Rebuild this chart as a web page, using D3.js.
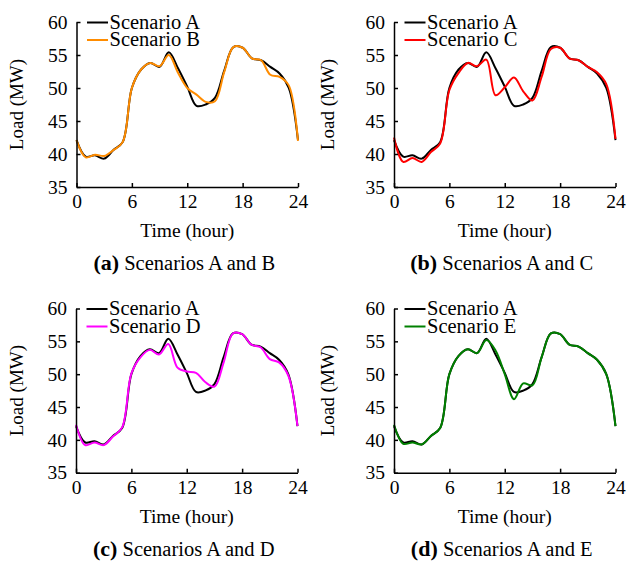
<!DOCTYPE html>
<html>
<head>
	<title>Load scenarios</title>
	<script src="https://cdn.jsdelivr.net/npm/d3@7"></script>
	<style>
		body { margin: 0; background: #fff; }
		text { font-family: "Liberation Serif", "Times New Roman", serif; fill: #000; }
	</style>
</head>
<body>
<script type="text/javascript">
	// hours of the day
	var hours = [0,1,2,3,4,5,6,7,8,9,10,11,12,13,14,15,16,17,18,19,20,21,22,23,24];

	// load in MW
	var scenarioA = [42.1,39.6,39.8,39.3,40.6,41.8,50.0,52.8,53.8,53.2,55.4,53.0,50.2,47.3,47.5,48.5,52.6,56.2,56.1,54.5,54.2,53.2,52.2,50.0,42.1];
	var scenarioB = [42.1,39.5,39.9,39.7,40.6,41.8,50.0,52.8,53.8,53.3,55.0,52.3,50.0,49.0,47.9,48.0,52.4,56.2,56.1,54.5,54.2,52.0,51.7,50.4,42.0];
	var scenarioC = [42.5,38.8,39.4,38.8,40.3,41.6,49.7,52.3,53.8,53.3,54.3,48.9,50.1,51.6,49.5,48.1,51.7,55.9,56.1,54.5,54.2,53.2,52.4,50.6,42.3];
	var scenarioD = [42.3,39.2,39.6,39.2,40.5,41.9,50.1,52.6,53.7,53.0,54.6,51.0,50.4,50.2,48.8,48.1,51.8,56.2,56.1,54.5,54.1,52.3,51.8,49.8,42.1];
	var scenarioE = [42.3,39.4,39.6,39.3,40.6,41.8,50.0,52.8,53.8,53.2,55.2,53.6,50.0,46.2,48.6,48.3,52.6,56.2,56.1,54.5,54.2,53.2,52.2,50.0,42.1];

	var xTicks = [0, 6, 12, 18, 24];
	var yTicks = [35, 40, 45, 50, 55, 60];

	var svgWidth = 628, svgHeight = 562;

	var svg = d3.select("body")
		.append("svg")
		.attr("width", svgWidth)
		.attr("height", svgHeight);

	// one entry per small chart
	var panels = [
		{ tag: "(a)", other: "B", values: scenarioB, color: "#ff8c00", left: 76.5, top: 22, bottom: 187, labelX: 23 },
		{ tag: "(b)", other: "C", values: scenarioC, color: "#ff0000", left: 394, top: 22, bottom: 187, labelX: 334 },
		{ tag: "(c)", other: "D", values: scenarioD, color: "#ff00ff", left: 76, top: 308.5, bottom: 472.7, labelX: 23 },
		{ tag: "(d)", other: "E", values: scenarioE, color: "#008000", left: 394, top: 308.5, bottom: 472.7, labelX: 334 }
	];
	var plotWidth = 221.5;

	panels.forEach(function(p) {
		var x = d3.scaleLinear().domain([0, 24]).range([p.left, p.left + plotWidth]);
		var y = d3.scaleLinear().domain([35, 60]).range([p.bottom, p.top]);
		var g = svg.append("g");

		var line = d3.line()
			.x(function(d, i) { return x(hours[i]); })
			.y(function(d) { return y(d); })
			.curve(d3.curveCatmullRom.alpha(0.5));

		g.append("path")
			.attr("d", line(scenarioA))
			.attr("fill", "none")
			.attr("stroke", "#000")
			.attr("stroke-width", 2);

		g.append("path")
			.attr("d", line(p.values))
			.attr("fill", "none")
			.attr("stroke", p.color)
			.attr("stroke-width", 2);

		// axes, ticks point inward
		var xAxis = g.append("g")
			.attr("transform", "translate(0," + p.bottom + ")")
			.call(d3.axisBottom(x).tickValues(xTicks).tickSizeInner(-4).tickSizeOuter(0).tickPadding(7));
		var yAxis = g.append("g")
			.attr("transform", "translate(" + p.left + ",0)")
			.call(d3.axisLeft(y).tickValues(yTicks).tickSizeInner(-4).tickSizeOuter(0).tickPadding(9));

		[xAxis, yAxis].forEach(function(a) {
			a.select(".domain").attr("stroke", "#000").attr("stroke-width", 1.5);
			a.selectAll(".tick line").attr("stroke", "#000").attr("stroke-width", 1.5);
			a.selectAll(".tick text")
				.style("font-family", "'Liberation Serif', serif")
				.style("font-size", "19.5px")
				.attr("fill", "#000");
		});

		// axis titles
		g.append("text")
			.attr("x", (p.left + p.left + plotWidth) / 2)
			.attr("y", p.bottom + 50)
			.attr("text-anchor", "middle")
			.style("font-size", "19.5px")
			.text("Time (hour)");

		g.append("text")
			.attr("transform", "translate(" + p.labelX + "," + (p.top + p.bottom) / 2 + ") rotate(-90)")
			.attr("text-anchor", "middle")
			.style("font-size", "19px")
			.text("Load (MW)");

		// caption
		var cap = g.append("text")
			.attr("x", (p.left + p.left + plotWidth) / 2 - 3)
			.attr("y", p.bottom + 83)
			.attr("text-anchor", "middle")
			.style("font-size", "20.5px");
		cap.append("tspan").style("font-weight", "bold").style("font-size", "22px").text(p.tag);
		cap.append("tspan").text(" Scenarios A and " + p.other);

		// legend
		var legend = [{ name: "Scenario A", color: "#000" }, { name: "Scenario " + p.other, color: p.color }];
		legend.forEach(function(l, i) {
			var ly = p.top + 0.5 + i * 17.5;
			g.append("line")
				.attr("x1", p.left + 10.5).attr("x2", p.left + 31.5)
				.attr("y1", ly).attr("y2", ly)
				.attr("stroke", l.color)
				.attr("stroke-width", 2);
			g.append("text")
				.attr("x", p.left + 33)
				.attr("y", ly + 6)
				.style("font-size", "20.5px")
				.text(l.name);
		});
	});
</script>
</body>
</html>
